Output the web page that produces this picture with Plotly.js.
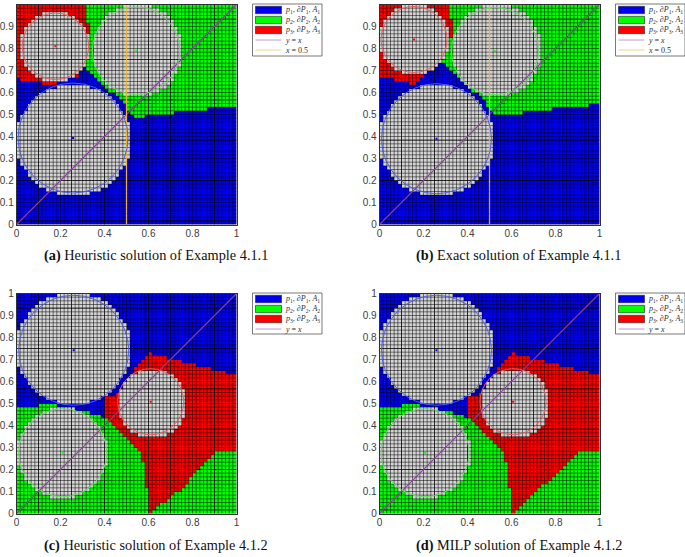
<!DOCTYPE html>
<html><head><meta charset="utf-8">
<script src="https://cdn.plot.ly/plotly-3.0.1.min.js"></script>
<style>html,body{margin:0;padding:0;background:#fff}</style>
</head><body><div id="chart" style="width:685px;height:557px"></div>
<script>
// Cells per row, top row first. Each token: region letter + column where that run ends.
const rowsA = [
'R19 G29 W37 G60','R19 G27 W39 G60','R7 W14 R19 G25 W41 G60','R5 W16 R19 G24 W42 G60','R4 W17 R19 G23 W43 G60',
'R3 W18 R20 G23 W43 G60','R2 W19 R20 G22 W44 G60','R2 W19 R20 G22 W44 G60','R1 W20 G21 W45 G60','R1 W20 G21 W45 G60',
'R1 W20 G21 W45 G60','R1 W20 G21 W45 G60','R1 W20 G21 W45 G60','R1 W20 G21 W45 G60','R1 W20 G21 W45 G60',
'R2 W19 G21 W45 G60','R2 W19 G21 W45 G60','R3 W18 B19 G22 W44 G60','R4 W17 B20 G22 W44 G60','R5 W16 R17 B21 G23 W43 G60',
'B1 R7 W14 B22 G23 W43 G60','B7 R11 B23 G24 W42 G60','B11 W20 B24 G25 W41 G60','B8 W23 B25 G27 W39 G60','B6 W25 B27 G29 W37 G60',
'B5 W26 B28 G60','B4 W27 B29 G60','B3 W28 B30 G60','B3 W28 B30 G52 B60','B2 W29 B31 G43 B60',
'B1 W30 B32 G35 B60','B1 W30 B60','W31 B60','W31 B60','W31 B60','W31 B60','W31 B60','W31 B60','W31 B60','W31 B60','W31 B60','W31 B60',
'B1 W30 B60','B1 W30 B60','B2 W29 B60','B3 W28 B60','B3 W28 B60','B4 W27 B60','B5 W26 B60','B6 W25 B60','B8 W23 B60','B11 W20 B60',
'B60','B60','B60','B60','B60','B60','B60','B60'];
const rowsB = [
'R6 W13 R19 G28 W36 G60','R4 W15 R19 G26 W38 G60','R3 W16 R19 G24 W40 G60','R2 W17 R19 G23 W41 G60','R1 W18 R20 G22 W42 G60',
'R1 W18 R20 G22 W42 G60','W19 R20 G21 W43 G60','W19 R20 G21 W43 G60','W19 R20 W44 G60','W19 G20 W44 G60',
'W19 G20 W44 G60','W19 G20 W44 G60','W19 G20 W44 G60','R1 W18 G20 W44 G60','R1 W18 G20 W44 G60',
'R2 W17 G20 W44 G60','R3 W16 B18 G20 W44 G60','R4 W15 B19 G21 W43 G60','R6 W13 B20 G21 W43 G60','R12 B21 G22 W42 G60',
'B4 R11 B22 W42 G60','B8 R10 B23 W41 G60','B11 W20 B24 W40 G60','B8 W23 B25 G26 W38 G60','B6 W25 B27 G28 W36 G60',
'B5 W26 B28 G60','B4 W27 B29 G60','B3 W28 B29 G57 B60','B3 W28 B30 G47 B60','B2 W29 B31 G39 B60',
'B1 W30 B60','B1 W30 B60','W31 B60','W31 B60','W31 B60','W31 B60','W31 B60','W31 B60','W31 B60','W31 B60','W31 B60','W31 B60',
'B1 W30 B60','B1 W30 B60','B2 W29 B60','B3 W28 B60','B3 W28 B60','B4 W27 B60','B5 W26 B60','B6 W25 B60','B8 W23 B60','B11 W20 B60',
'B60','B60','B60','B60','B60','B60','B60','B60'];
const rowsC = [
'B11 W20 B60','B8 W23 B60','B6 W25 B60','B5 W26 B60','B4 W27 B60','B3 W28 B60','B3 W28 B60','B2 W29 B60','B1 W30 B60','B1 W30 B60',
'W31 B60','W31 B60','W31 B60','W31 B60','W31 B60','W31 B60','W31 B36 R37 B60','W31 B35 R41 B60','W31 B34 R45 B60','W31 B33 R49 B60',
'B1 W30 B32 R53 B60','B1 W30 B32 R33 W41 R57 B60','B2 W29 B31 W43 R60','B3 W28 B30 W44 R60','B3 W28 B29 W45 R60',
'B4 W27 B29 W45 R60','B5 W26 B28 W46 R60','B6 W25 B27 R28 W46 R60','B8 W23 B24 R28 W46 R60','B11 W20 B24 R28 W46 R60',
'B6 G11 B24 R28 W46 R60','G9 W16 B24 R28 W46 R60','G7 W18 G20 B24 R28 W46 R60','G5 W20 G23 B24 R28 W46 R60','G4 W21 G25 R29 W45 R60',
'G3 W22 G26 R29 W45 R60','G2 W23 G27 R30 W44 R60','G2 W23 G28 R31 W43 R60','G1 W24 G29 R33 W41 R60','G1 W24 G30 R60',
'W25 G31 R60','W25 G32 R60','W25 G33 R60','W25 G34 R54 G60','W25 G34 R53 G60','W25 G34 R52 G60','W25 G35 R51 G60',
'G1 W24 G35 R50 G60','G1 W24 G35 R49 G60','G2 W23 G35 R48 G60','G2 W23 G35 R47 G60','G3 W22 G35 R47 G60','G4 W21 G35 R46 G60',
'G5 W20 G36 R45 G60','G7 W18 G36 R43 G60','G9 W16 G36 R42 G60','G36 R41 G60','G36 R39 G60','G36 R38 G60','G36 R37 G60'];
const rowsD = rowsC.slice(0,51).concat([
'G3 W22 G35 R46 G60','G4 W21 G35 R44 G60','G5 W20 G36 R43 G60','G7 W18 G36 R42 G60','G9 W16 G36 R41 G60',
'G36 R40 G60','G36 R39 G60','G36 R38 G60','G36 R37 G60']);

const circlesA = {x:[0.257,0.544,0.177], y:[0.393,0.790,0.810], r:[0.250,0.199,0.151]};
const circlesB = {x:[0.259,0.525,0.157], y:[0.390,0.788,0.841], r:[0.250,0.198,0.150]};
const circlesC = {x:[0.260,0.210,0.610], y:[0.742,0.276,0.508], r:[0.250,0.200,0.150]};
const circlesD = {x:[0.259,0.207,0.607], y:[0.742,0.276,0.508], r:[0.250,0.200,0.150]};
const regionColors = ['#0000f0','#00ff00','#ff0000'];
const circleColors = ['#4a5ee8','#55e855','#ee5a5a'];
const xTicks = [0,0.2,0.4,0.6,0.8,1];
const yTicks = [0,0.1,0.2,0.3,0.4,0.5,0.6,0.7,0.8,0.9,1];
const darkCols = [6,15,24,36,42,54];
const darkRows = [1,12,23,34,45,56];
const captions = [['(a)','Heuristic solution of Example 4.1.1'],['(b)','Exact solution of Example 4.1.1'],
                  ['(c)','Heuristic solution of Example 4.1.2'],['(d)','MILP solution of Example 4.1.2']];
const legendFull = ['<i>p</i><sub>1</sub>, ∂<i>P</i><sub>1</sub>, <i>A</i><sub>1</sub>','<i>p</i><sub>2</sub>, ∂<i>P</i><sub>2</sub>, <i>A</i><sub>2</sub>','<i>p</i><sub>3</sub>, ∂<i>P</i><sub>3</sub>, <i>A</i><sub>3</sub>'];
const lineLabels = ['<i>y</i> = <i>x</i>','<i>x</i> = 0.5'];

const N = 60;
const code = {B:0,G:1,R:2,W:3};
function decode(rows){
  return rows.map(s=>{
    const out=[]; s.split(' ').forEach(t=>{const e=+t.slice(1); while(out.length<e) out.push(code[t[0]]);});
    return out;
  });
}
const centers=[...Array(N).keys()].map(i=>(i+.5)/N);
const yCenters=centers.map(c=>1-c);
const gx=[],gy=[];
for(let k=0;k<=N;k++){ gx.push(k/N,k/N,null,0,1,null); gy.push(0,1,null,k/N,k/N,null); }
const dx=[],dy=[];
darkCols.forEach(k=>{dx.push(k/N,k/N,null); dy.push(0,1,null);});
darkRows.forEach(k=>{dx.push(0,1,null); dy.push(k/N,k/N,null);});

const W=685,H=557;
const boxes=[[16.5,236.5,4.5,224.5],[379.5,599.5,4.5,224.5],[16.5,236.5,293.5,513.5],[379.5,599.5,293.5,513.5]];
const panels=[[rowsA,circlesA,true],[rowsB,circlesB,true],[rowsC,circlesC,false],[rowsD,circlesD,false]];
const px=v=>v/W, py=v=>1-v/H;
const traces=[],shapes=[],annotations=[];
const layout={width:W,height:H,margin:{l:0,r:0,t:0,b:0},paper_bgcolor:'#fff',plot_bgcolor:'#fff',showlegend:false,
  font:{family:'Liberation Sans',size:10,color:'#404040'},shapes,annotations};

panels.forEach((p,i)=>{
  const [rows,circ,half]=p, s=i?String(i+1):'', b=boxes[i], xa='x'+s, ya='y'+s;
  const axis={range:[0,1],showgrid:false,zeroline:false,showline:true,linecolor:'#303030',linewidth:0.6,mirror:true,
    ticks:'',tickfont:{family:'Liberation Sans',size:10,color:'#404040'},fixedrange:true};
  layout['xaxis'+s]=Object.assign({},axis,{domain:[px(b[0]),px(b[1])],anchor:ya,tickvals:xTicks,ticktext:xTicks.map(String),tickangle:0});
  layout['yaxis'+s]=Object.assign({},axis,{domain:[py(b[3]),py(b[2])],anchor:xa,tickvals:yTicks,ticktext:yTicks.map(String)});
  traces.push({type:'heatmap',x:centers,y:yCenters,z:decode(rows),zmin:0,zmax:3,showscale:false,hoverinfo:'skip',xaxis:xa,yaxis:ya,
    colorscale:[[0,regionColors[0]],[.25,regionColors[0]],[.25,regionColors[1]],[.5,regionColors[1]],[.5,regionColors[2]],[.75,regionColors[2]],[.75,'#d4d4d4'],[1,'#d4d4d4']]});
  traces.push({type:'scatter',mode:'lines',x:gx,y:gy,line:{color:'#000',width:0.5},hoverinfo:'skip',xaxis:xa,yaxis:ya});
  traces.push({type:'scatter',mode:'lines',x:dx,y:dy,line:{color:'#000',width:0.6},hoverinfo:'skip',xaxis:xa,yaxis:ya});
  traces.push({type:'scatter',mode:'lines',x:[0,1],y:[0,1],line:{color:'#8a3f9c',width:1.1},hoverinfo:'skip',xaxis:xa,yaxis:ya});
  if(half) traces.push({type:'scatter',mode:'lines',x:[0.5,0.5],y:[0,1],line:{color:'#edb12a',width:1.2},hoverinfo:'skip',xaxis:xa,yaxis:ya});
  traces.push({type:'scatter',mode:'markers',x:circ.x,y:circ.y,marker:{symbol:'square',size:2,color:regionColors},hoverinfo:'skip',xaxis:xa,yaxis:ya});
  circ.x.forEach((cx,k)=>{
    shapes.push({type:'circle',xref:xa,yref:ya,x0:cx-circ.r[k],x1:cx+circ.r[k],y0:circ.y[k]-circ.r[k],y1:circ.y[k]+circ.r[k],
      line:{color:circleColors[k],width:1}});
  });
  // legend
  const lx=b[0]+236, ly=b[2]-0.5, nRows=half?5:4, lh=nRows===5?52:41;
  shapes.push({type:'rect',xref:'paper',yref:'paper',x0:px(lx),x1:px(lx+69.5),y0:py(ly+lh),y1:py(ly),line:{color:'#404040',width:0.7},fillcolor:'#fff'});
  const rowY=k=>ly+6+k*10;
  regionColors.forEach((c,k)=>{
    shapes.push({type:'rect',xref:'paper',yref:'paper',x0:px(lx+3),x1:px(lx+29),y0:py(rowY(k)+3.7),y1:py(rowY(k)-3.7),line:{color:'#202020',width:0.6},fillcolor:c});
    annotations.push({xref:'paper',yref:'paper',x:px(lx+31),y:py(rowY(k)),xanchor:'left',yanchor:'middle',showarrow:false,text:legendFull[k],
      font:{family:'Liberation Serif',size:8,color:'#303030'},borderpad:0});
  });
  const lineCols=['#c49ad0','#f2d488'];
  for(let k=0;k<nRows-3;k++){
    const yy=rowY(3+k);
    shapes.push({type:'line',xref:'paper',yref:'paper',x0:px(lx+3),x1:px(lx+29),y0:py(yy),y1:py(yy),line:{color:lineCols[k],width:1}});
    annotations.push({xref:'paper',yref:'paper',x:px(lx+31),y:py(yy),xanchor:'left',yanchor:'middle',showarrow:false,text:lineLabels[k],
      font:{family:'Liberation Serif',size:8,color:'#303030'},borderpad:0});
  }
  const capLeft=[43,415,43,415][i];
  annotations.push({xref:'paper',yref:'paper',x:px(capLeft),y:py(i<2?255:545),xanchor:'left',yanchor:'middle',showarrow:false,
    text:'<b>'+captions[i][0]+'</b> '+captions[i][1],font:{family:'Liberation Serif',size:14.3,color:'#111'},borderpad:0});
});
Plotly.newPlot('chart',traces,layout,{displayModeBar:false});
</script></body></html>
